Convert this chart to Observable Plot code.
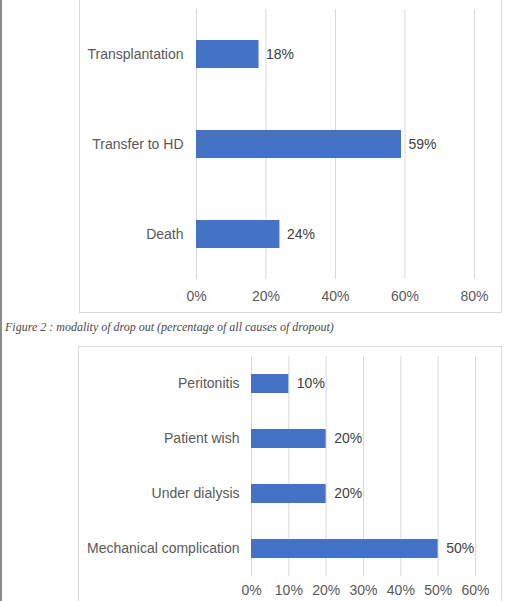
<!DOCTYPE html>
<html>
<head>
<meta charset="utf-8">
<script src="https://cdn.jsdelivr.net/npm/d3@7"></script>
<script src="https://cdn.jsdelivr.net/npm/@observablehq/plot@0.6"></script>
<style>
  html, body { margin: 0; padding: 0; background: #fff; }
  body { width: 519px; height: 601px; position: relative; overflow: hidden; font-family: "Liberation Sans", Arial, sans-serif; }
  #lb { position: absolute; left: 0; top: 0; width: 2px; height: 601px; background: #8c8c8c; }
  .box { position: absolute; border: 1px solid #d9d9d9; background: #fff; }
  .box svg { display: block; }
  #c1 { left: 79px; top: -1px; }
  #c2 { left: 78px; top: 346px; }
  #cap { position: absolute; left: 5px; top: 320px; font-family: "Liberation Serif", "Times New Roman", serif; font-style: italic; font-size: 12px; color: #4a4a4a; white-space: nowrap; }
</style>
</head>
<body>
<div id="lb"></div>
<div id="c1" class="box"></div>
<div id="cap">Figure 2 : modality of drop out (percentage of all causes of dropout)</div>
<div id="c2" class="box"></div>
<script>
// Chart 1 data
const cats1 = ["Transplantation", "Transfer to HD", "Death"];
const vals1 = [0.18, 0.59, 0.24];
const xTicks1 = [0, 0.2, 0.4, 0.6, 0.8];

// Chart 2 data
const cats2 = ["Peritonitis", "Patient wish", "Under dialysis", "Mechanical complication"];
const vals2 = [0.10, 0.20, 0.20, 0.50];
const xTicks2 = [0, 0.1, 0.2, 0.3, 0.4, 0.5, 0.6];

const pct = d3.format(".0%");
const BLUE = "#4472c4";

function chart(cats, vals, ticks, o) {
  const data = cats.map((c, i) => ({cat: c, value: vals[i]}));
  return Plot.plot({
    width: o.width,
    height: o.height,
    marginLeft: o.ml,
    marginRight: o.mr,
    marginTop: o.mt,
    marginBottom: o.mb,
    style: {fontFamily: '"Liberation Sans", Arial, sans-serif', fontSize: "14px", color: "#595959", background: "#fff"},
    x: {domain: [ticks[0], ticks[ticks.length - 1]], ticks: ticks, tickFormat: pct, tickSize: 0, tickPadding: o.xpad, label: null},
    y: {domain: cats, paddingInner: o.pi, paddingOuter: o.pi / 2, tickSize: 0, tickPadding: o.ypad, label: null},
    marks: [
      Plot.ruleX(ticks, {stroke: "#d9d9d9", strokeWidth: 1}),
      Plot.barX(data, {y: "cat", x: "value", fill: BLUE}),
      Plot.text(data, {y: "cat", x: "value", text: d => pct(d.value), dx: o.dx, textAnchor: "start", fill: "#404040", fontSize: 14})
    ]
  });
}

document.getElementById("c1").appendChild(chart(cats1, vals1, xTicks1, {
  width: 421, height: 312, ml: 116, mr: 27, mt: 9, mb: 33, xpad: 12, ypad: 13, pi: 0.69, dx: 7
}));

document.getElementById("c2").appendChild(chart(cats2, vals2, xTicks2, {
  width: 422, height: 260, ml: 172, mr: 26, mt: 9, mb: 31, xpad: 9, ypad: 12, pi: 0.655, dx: 8
}));
</script>
</body>
</html>
